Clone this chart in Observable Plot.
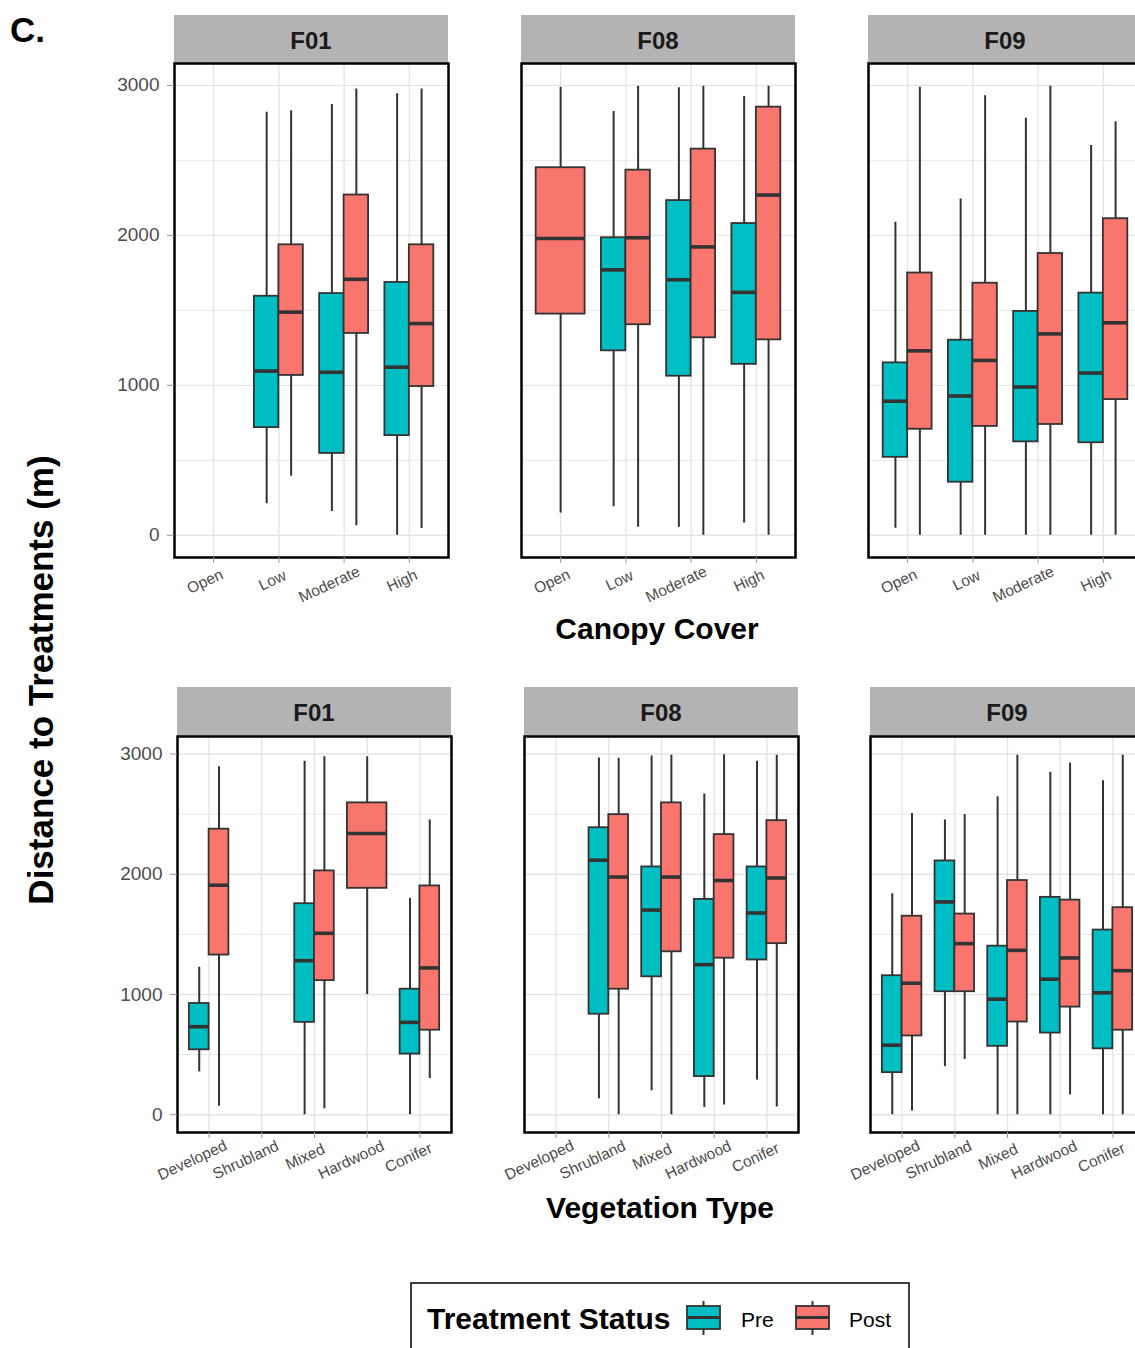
<!DOCTYPE html>
<html>
<head>
<meta charset="utf-8">
<script src="https://cdn.jsdelivr.net/npm/d3@7"></script>
<script src="https://cdn.jsdelivr.net/npm/@observablehq/plot@0.6"></script>
<style>
  html, body { margin: 0; padding: 0; background: #fff; overflow: hidden; width: 1135px; height: 1348px; }
  #page { position: relative; width: 1135px; height: 1348px; overflow: hidden; }
</style>
</head>
<body>
<div id="page"></div>
<script>
// Categories on the two x axes, facets, and treatment groups
const canopyCats = ["Open", "Low", "Moderate", "High"];
const vegCats = ["Developed", "Shrubland", "Mixed", "Hardwood", "Conifer"];
const farms = ["F01", "F08", "F09"];
const statuses = ["Pre", "Post"];
const statusColors = ["#00BFC4", "#F8766D"];
const majorY = [0, 1000, 2000, 3000];
const minorY = [500, 1500, 2500];

// Box summaries per category: [lower whisker, Q1, median, Q3, upper whisker]; null = no observations
const canopyF01Pre  = [null, [211, 718, 1095, 1594, 2821], [158, 546, 1087, 1612, 2873], [0, 665, 1121, 1686, 2945]];
const canopyF01Post = [null, [393, 1066, 1488, 1937, 2831], [63, 1346, 1707, 2269, 2976], [45, 992, 1412, 1937, 2976]];
const canopyF08Pre  = [null, [190, 1230, 1770, 1984, 2826], [53, 1061, 1704, 2232, 2984], [82, 1140, 1620, 2079, 2926]];
const canopyF08Post = [[148, 1475, 1979, 2451, 2987], [53, 1404, 1984, 2435, 2995], [0, 1317, 1923, 2575, 2995], [0, 1303, 2269, 2855, 2995]];
const canopyF09Pre  = [[47, 520, 894, 1150, 2087], [0, 354, 929, 1301, 2243], [0, 623, 989, 1493, 2781], [0, 617, 1082, 1615, 2599]];
const canopyF09Post = [[0, 707, 1230, 1749, 2987], [0, 726, 1166, 1681, 2931], [0, 739, 1343, 1879, 2995], [0, 905, 1417, 2111, 2757]];

const vegF01Pre  = [[356, 540, 732, 925, 1227], null, [0, 768, 1281, 1755, 2941], null, [0, 504, 768, 1044, 1800]];
const vegF01Post = [[71, 1328, 1909, 2375, 2894], null, [50, 1115, 1509, 2028, 2977], [999, 1883, 2339, 2594, 2977], [302, 703, 1221, 1903, 2452]];
const vegF08Pre  = [null, [133, 836, 2117, 2387, 2968], [199, 1147, 1702, 2061, 2983], [59, 317, 1248, 1791, 2668], [288, 1287, 1678, 2061, 2941]];
const vegF08Post = [null, [0, 1044, 1977, 2496, 2965], [0, 1355, 1977, 2594, 2991], [80, 1302, 1948, 2330, 2994], [65, 1423, 1969, 2446, 2991]];
const vegF09Pre  = [[0, 350, 578, 1156, 1838], [400, 1023, 1770, 2111, 2452], [0, 569, 961, 1402, 2645], [0, 679, 1127, 1808, 2849], [0, 548, 1014, 1536, 2778]];
const vegF09Post = [[30, 655, 1094, 1651, 2505], [460, 1023, 1423, 1669, 2496], [0, 771, 1367, 1948, 2991], [163, 895, 1304, 1785, 2926], [0, 703, 1198, 1722, 2991]];

// Layout
const FONT = '"Liberation Sans", Arial, Helvetica, sans-serif';
const PANEL_W = 274;
const BOX_W = 0.75;              // dodged pair width, in category units
const Y_DOMAIN = [-148, 3146];
const M = {left: 60, right: 4, top: 4, bottom: 70};
const TXT = "#4D4D4D";
const INK = "#333333";
const GRID = "#E5E5E5";

const rows = [
  {cats: canopyCats, pre: [canopyF01Pre, canopyF08Pre, canopyF09Pre], post: [canopyF01Post, canopyF08Post, canopyF09Post],
   top: 63, height: 494, stripTop: 15, stripH: 48, stripBaseline: 48.5, lefts: [174, 521, 868],
   title: "Canopy Cover", titleX: 657, titleBaseline: 639},
  {cats: vegCats, pre: [vegF01Pre, vegF08Pre, vegF09Pre], post: [vegF01Post, vegF08Post, vegF09Post],
   top: 736, height: 396, stripTop: 687, stripH: 49, stripBaseline: 721, lefts: [177, 524, 870],
   title: "Vegetation Type", titleX: 660, titleBaseline: 1218}
];

const page = d3.select("#page");
const overlay = page.append("svg")
  .attr("width", 1135).attr("height", 1348)
  .style("position", "absolute").style("left", "0px").style("top", "0px")
  .attr("font-family", FONT);

// Panel label
overlay.append("text").attr("x", 10).attr("y", 42)
  .attr("font-size", 35).attr("font-weight", "bold").attr("fill", "#000").text("C.");

// Shared y-axis title
overlay.append("text")
  .attr("transform", "translate(53,680) rotate(-90)")
  .attr("text-anchor", "middle")
  .attr("font-size", 35).attr("font-weight", "bold").attr("fill", "#000")
  .text("Distance to Treatments (m)");

function boxRecords(cats, pre, post) {
  const recs = [];
  cats.forEach((cat, i) => {
    const groups = [[statuses[0], pre[i]], [statuses[1], post[i]]].filter(g => g[1]);
    const half = groups.length === 2 ? BOX_W / 4 : BOX_W / 2;
    groups.forEach(([status, s], k) => {
      const x = i + 1 + (groups.length === 2 ? (k === 0 ? -half : half) : 0);
      recs.push({cat, status, x, x1: x - half, x2: x + half,
        min: s[0], q1: s[1], med: s[2], q3: s[3], max: s[4]});
    });
  });
  return recs;
}

rows.forEach(row => {
  const n = row.cats.length;
  const catTicks = d3.range(1, n + 1);

  // Row axis title
  overlay.append("text").attr("y", row.titleBaseline)
    .attr("x", row.titleX).attr("text-anchor", "middle")
    .attr("font-size", 30).attr("font-weight", "bold").attr("fill", "#000")
    .text(row.title);

  farms.forEach((farm, f) => {
    const left = row.lefts[f];
    // facet strip
    overlay.append("rect").attr("x", left).attr("y", row.stripTop)
      .attr("width", PANEL_W).attr("height", row.stripH).attr("fill", "#B3B3B3");
    overlay.append("text").attr("x", left + PANEL_W / 2).attr("y", row.stripBaseline)
      .attr("text-anchor", "middle").attr("font-size", 24).attr("font-weight", "bold")
      .attr("fill", "#1A1A1A").text(farm);

    const recs = boxRecords(row.cats, row.pre[f], row.post[f]);
    const showY = f === 0;

    const svg = Plot.plot({
      width: M.left + PANEL_W + M.right,
      height: M.top + row.height + M.bottom,
      marginLeft: M.left, marginRight: M.right, marginTop: M.top, marginBottom: M.bottom,
      style: {background: "transparent", fontFamily: FONT, overflow: "visible"},
      x: {type: "linear", domain: [0.4, n + 0.6], label: null},
      y: {domain: Y_DOMAIN, label: null, axis: showY ? undefined : null},
      color: {domain: statuses, range: statusColors},
      marks: [
        Plot.gridY(minorY, {stroke: GRID, strokeOpacity: 1, strokeWidth: 0.9}),
        Plot.gridY(majorY, {stroke: GRID, strokeOpacity: 1, strokeWidth: 1.4}),
        Plot.gridX(catTicks, {stroke: GRID, strokeOpacity: 1, strokeWidth: 1.4}),
        Plot.ruleX(recs, {x: "x", y1: "min", y2: "max", stroke: INK, strokeWidth: 2}),
        Plot.rect(recs, {x1: "x1", x2: "x2", y1: "q1", y2: "q3", fill: "status", stroke: INK, strokeWidth: 1.8}),
        Plot.ruleY(recs, {y: "med", x1: "x1", x2: "x2", stroke: INK, strokeWidth: 3.6}),
        Plot.frame({stroke: "#000", strokeWidth: 2.5}),
        Plot.axisX(catTicks, {
          tickFormat: i => row.cats[i - 1], tickRotate: -25, textAnchor: "end",
          fontSize: 15.5, tickSize: 6, tickPadding: 14, color: TXT, stroke: "#999", label: null
        }),
        showY ? Plot.axisY(majorY, {
          tickFormat: d => String(d), fontSize: 19, tickSize: 7, tickPadding: 8,
          color: TXT, stroke: "#999", label: null
        }) : null
      ]
    });
    svg.style.position = "absolute";
    svg.style.left = (left - M.left) + "px";
    svg.style.top = (row.top - M.top) + "px";
    page.node().appendChild(svg);

    // rotated category labels sit three quarters of the way along their length on the tick
    d3.select(svg).selectAll("g[aria-label='x-axis tick label'] text").each(function () {
      const len = this.getComputedTextLength();
      d3.select(this).attr("text-anchor", "end").attr("dx", 0.25 * len);
    });
  });
});

// Legend
const lg = overlay.append("g");
lg.append("rect").attr("x", 411).attr("y", 1283).attr("width", 498).attr("height", 120)
  .attr("fill", "#fff").attr("stroke", "#000").attr("stroke-width", 1.5);
lg.append("text").attr("x", 427).attr("y", 1329).attr("font-size", 30).attr("font-weight", "bold")
  .attr("fill", "#000").text("Treatment Status");
const keyX = [687, 796];
const labelX = [741, 849];
statuses.forEach((s, i) => {
  const kx = keyX[i], kw = 33;
  lg.append("line").attr("x1", kx + kw / 2).attr("x2", kx + kw / 2).attr("y1", 1301).attr("y2", 1335)
    .attr("stroke", INK).attr("stroke-width", 2);
  lg.append("rect").attr("x", kx).attr("y", 1306).attr("width", kw).attr("height", 23)
    .attr("fill", statusColors[i]).attr("stroke", INK).attr("stroke-width", 1.8);
  lg.append("line").attr("x1", kx).attr("x2", kx + kw).attr("y1", 1317.5).attr("y2", 1317.5)
    .attr("stroke", INK).attr("stroke-width", 3);
  lg.append("text").attr("x", labelX[i]).attr("y", 1327).attr("font-size", 21)
    .attr("fill", "#000").text(s);
});
</script>
</body>
</html>
